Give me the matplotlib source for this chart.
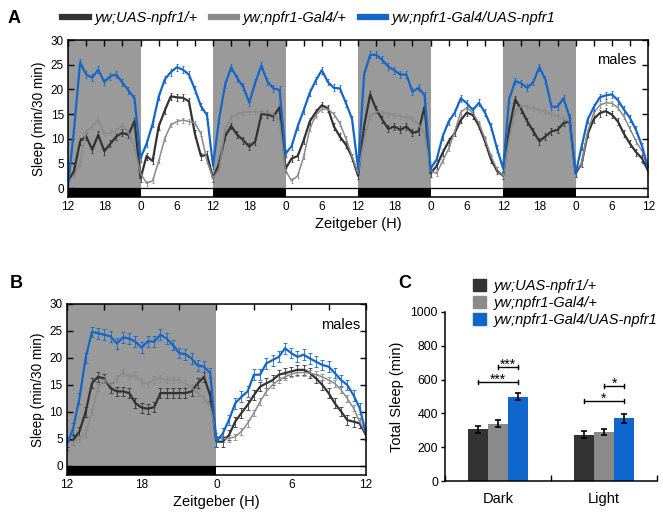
import matplotlib
matplotlib.use('Agg')
import matplotlib.pyplot as plt
from matplotlib.patches import Rectangle, Patch
from matplotlib.lines import Line2D
import numpy as np

plt.rcParams['font.family'] = ['Liberation Sans', 'DejaVu Sans']

genotypes = ['yw;UAS-npfr1/+', 'yw;npfr1-Gal4/+', 'yw;npfr1-Gal4/UAS-npfr1']
colors = ['#333333', '#8a8a8a', '#1467c9']
shade = '#9a9a9a'

# ---- panel A: 4 days, hourly, starting at ZT12 ----
uas_A = [1.4, 3.5, 9.5, 10.5, 7.8, 10.8, 7.5, 9, 10.5, 11.2, 10.8, 13.6, 2,
         6.5, 5.5, 12.5, 15.7, 18.6, 18.4, 18.3, 17.6, 11, 6.5, 6.8, 2,
         5, 10.5, 12.6, 10.8, 9.7, 8.4, 9.5, 15, 14.9, 14.5, 16.4, 4,
         6, 6.5, 9.7, 13.5, 15.4, 16.8, 16.2, 12.5, 10.4, 8.8, 6.3, 2.5,
         12.6, 19, 16, 13.9, 12, 12.5, 11.8, 12.5, 11.2, 11.5, 16.5, 3,
         4.5, 7.2, 9.5, 11.2, 13.8, 15.3, 14.8, 12.6, 9.5, 5.8, 3.5, 2.5,
         12, 18, 16, 13.5, 11.5, 9.5, 10.5, 11.5, 11.8, 13.2, 13.5, 3,
         5, 11, 14, 15.2, 15.6, 14.9, 13.5, 11, 9, 7.3, 6, 3.5]
gal4_A = [1, 2.6, 5, 11.5, 12.5, 13.8, 11, 11.2, 11.6, 12.8, 11.2, 8.2, 3,
          1.0, 1.5, 5.5, 10, 12.8, 13.5, 13.8, 13.5, 13.2, 11, 5.5, 2,
          3.8, 12, 14.3, 15, 15.3, 15.5, 15.5, 15.3, 15.3, 15, 13.5, 3.5,
          1.5, 2.5, 6.4, 12, 14.8, 16, 16, 15, 13.1, 10, 6.5, 3,
          10, 14.5, 15.5, 15.4, 15, 14.7, 14.6, 14.4, 14, 13, 11, 3.5,
          3, 5.5, 8, 11.5, 15.4, 16.3, 15.2, 13.2, 10, 6.5, 3.8, 2.5,
          10, 15.5, 16.6, 16.5, 16.2, 15.8, 15.5, 15, 14.6, 14, 13.5, 3.5,
          5, 11.5, 15.3, 16.8, 17.3, 17.2, 16.3, 14.5, 12, 9.5, 7.5, 4]
exp_A = [0.5, 12, 25.5, 23, 22.4, 24, 21.5, 22.7, 23, 21.4, 19.8, 18.2, 6.1,
         9, 13, 18.5, 22, 23.5, 24.5, 24, 23, 20, 16.6, 14.8, 4.5,
         14, 21, 24.5, 22.3, 20.5, 17.3, 21.5, 24.8, 21.6, 20.2, 19.9, 7,
         8.5, 12.5, 15.8, 19.3, 21.8, 23.9, 21.5, 20.3, 20.2, 17.2, 14, 4,
         23, 27, 27, 26, 24.6, 23.9, 23, 23, 19.5, 20.3, 18.8, 4,
         5.8, 10.5, 13.5, 15.3, 18.2, 17.2, 15.8, 17.3, 15.3, 12.5, 8, 4,
         18, 21.7, 21.2, 20.3, 21.5, 24.5, 22, 16.5, 16.5, 18.2, 14.4, 3,
         8.5, 13.9, 16.4, 18.4, 18.8, 19, 17.8, 15.9, 14.2, 11.8, 8.5, 4]
sem_A = [0.7, 0.5, 0.7]

# ---- panel B: average day, 30 min bins ----
uas_B = [4.5, 4.8, 6.4, 10.0, 15.3, 16.5, 16.2, 14.4, 13.8, 13.8, 13.5, 11.6,
         10.8, 10.6, 10.9, 13.5, 13.5, 13.5, 13.5, 13.5, 13.8, 15.3, 16.5, 13.0,
         4.5, 4.5, 5.7, 8.2, 9.8, 11.3, 13.1, 14.7, 15.3, 15.9, 16.9, 17.2,
         17.5, 17.8, 17.8, 17.2, 16.2, 15.0, 13.5, 11.6, 10.1, 8.5, 8.2, 7.9, 5.7]
gal4_B = [4.5, 4.5, 5.0, 6.0, 10.0, 14.5, 16.0, 15.0, 16.2, 17.3, 16.5, 16.8,
          15.5, 15.2, 16.0, 16.2, 15.9, 15.9, 15.9, 15.3, 14.5, 13.5, 12.5, 11.0,
          5.5, 5.0, 5.1, 5.4, 6.4, 7.9, 9.8, 11.9, 13.8, 15.0, 15.9, 16.5,
          17.0, 17.3, 17.3, 17.2, 16.9, 16.5, 15.9, 15.3, 14.1, 12.5, 10.7, 8.2, 6.0]
exp_B = [4.0, 7.0, 12.5, 20.0, 24.8, 24.6, 24.3, 24.0, 22.7, 23.8, 23.6, 23.0,
         21.9, 23.1, 23.0, 24.3, 23.6, 22.4, 20.9, 20.7, 19.9, 18.6, 18.4, 17.2,
         4.5, 6.0, 8.5, 11.6, 12.8, 13.8, 16.9, 16.9, 19.0, 19.6, 20.2, 21.8,
         20.9, 20.2, 20.6, 19.9, 19.3, 18.7, 18.4, 17.2, 15.9, 15.0, 13.1, 10.7, 6.0]
sem_B = [0.9, 0.6, 1.0]

# ---- panel C: total sleep ----
phases = ['Dark', 'Light']
total_dark = [305, 340, 500]
total_light = [275, 290, 370]
sem_dark = [20, 22, 18]
sem_light = [18, 20, 27]
# significance: (phase, genotype a, genotype b, level, label)
sig = [(0, 0, 2, 586, '***'), (0, 1, 2, 675, '***'),
       (1, 0, 2, 473, '*'), (1, 1, 2, 562, '*')]

fig = plt.figure(figsize=(6.63, 5.2), dpi=100)


def sleep_panel(ax, t, series, sems, ndays, ymin, cap):
    for d in range(ndays):
        ax.add_patch(Rectangle((24 * d, 0), 12, 30, color=shade, lw=0, zorder=0))
        ax.add_patch(Rectangle((24 * d, ymin), 12, -ymin, color='black', lw=0, zorder=3))
    ax.axhline(0, color='black', lw=0.9, zorder=3)
    for k in [1, 0, 2]:
        lw = 1.1 if k == 1 else 1.6
        ax.errorbar(t, series[k], yerr=sems[k], color=colors[k], lw=lw,
                    elinewidth=0.6, capsize=cap, capthick=0.6, zorder=2 + k * 0.1)
    ax.set_xlim(0, 24 * ndays)
    ax.set_ylim(ymin, 30)
    ax.set_yticks(range(0, 31, 5))
    ax.set_xticks(np.arange(0, 24 * ndays + 1, 6))
    ax.set_xticklabels(['12', '18', '0', '6'] * ndays + ['12'])
    ax.set_xticks(np.arange(0, 24 * ndays + 1, 3), minor=True)
    ax.tick_params(which='both', direction='in', top=True, bottom=False,
                   right=True, length=4, width=1, labelsize=8.5, pad=3)
    for s in ax.spines.values():
        s.set_linewidth(1.1)
    ax.set_xlabel('Zeitgeber (H)', fontsize=10.5, labelpad=3)
    ax.set_ylabel('Sleep (min/30 min)', fontsize=9.8, labelpad=3)
    ax.text(0.98, 0.875, 'males', transform=ax.transAxes, ha='right',
            va='center', fontsize=10.5)


axA = fig.add_axes([0.1026, 0.621, 0.875, 0.302])
sleep_panel(axA, np.arange(len(exp_A)), [uas_A, gal4_A, exp_A], sem_A, 4, -1.8, 1.0)

axB = fig.add_axes([0.101, 0.0865, 0.451, 0.329])
sleep_panel(axB, np.arange(len(exp_B)) * 0.5, [uas_B, gal4_B, exp_B], sem_B, 1, -1.67, 1.5)

handles = [Line2D([], [], color=c, lw=4.5) for c in colors]
fig.legend(handles, genotypes, loc='center', bbox_to_anchor=(0.466, 0.965), ncol=3,
           frameon=False, handlelength=1.8, handletextpad=0.4, columnspacing=0.9,
           prop={'style': 'italic', 'size': 10.5})

# ---- panel C ----
axC = fig.add_axes([0.671, 0.075, 0.32, 0.325])
w = 0.19
for g, vals, errs in [(0, total_dark, sem_dark), (1, total_light, sem_light)]:
    for k in range(3):
        x = g + 0.5 + (k - 1) * w
        axC.bar(x, vals[k], width=w, color=colors[k] if k < 2 else '#0f66cc')
        axC.errorbar(x, vals[k], yerr=errs[k], color='black', capsize=2.5,
                     elinewidth=1.2, capthick=1.2)
for g, a, b, y, lab in sig:
    xa = g + 0.5 + (a - 1) * w
    xb = g + 0.5 + (b - 1) * w
    axC.plot([xa, xb], [y, y], color='black', lw=1.0)
    axC.plot([xa, xa], [y - 14, y + 14], color='black', lw=1.0)
    axC.plot([xb, xb], [y - 14, y + 14], color='black', lw=1.0)
    axC.text((xa + xb) / 2, y - 12, lab, ha='center', va='baseline', fontsize=10)
axC.set_xlim(0, 2)
axC.set_ylim(0, 1000)
axC.set_yticks(range(0, 1001, 200))
axC.set_xticks([0, 1, 2])
axC.set_xticklabels([])
axC.set_xticks([0.5, 1.5], minor=True)
axC.set_xticklabels(phases, minor=True, fontsize=10.5)
axC.tick_params(axis='x', which='major', direction='in', length=4, width=1)
axC.tick_params(axis='x', which='minor', length=0, pad=8)
axC.tick_params(axis='y', direction='out', length=3, width=1, labelsize=8.8, pad=2)
axC.spines['top'].set_visible(False)
axC.spines['right'].set_visible(False)
for s in ['left', 'bottom']:
    axC.spines[s].set_linewidth(1.1)
axC.set_ylabel('Total Sleep (min)', fontsize=10.5, labelpad=5)

patches = [Patch(color=c) for c in [colors[0], colors[1], '#0f66cc']]
fig.legend(patches, genotypes, loc='upper left', bbox_to_anchor=(0.705, 0.475),
           frameon=False, handlelength=0.9, handleheight=0.9, handletextpad=0.5,
           labelspacing=0.2, borderaxespad=0, prop={'style': 'italic', 'size': 10.5})

fig.text(0.012, 0.965, 'A', fontsize=13, fontweight='bold', va='center')
fig.text(0.015, 0.455, 'B', fontsize=13, fontweight='bold', va='center')
fig.text(0.6, 0.455, 'C', fontsize=13, fontweight='bold', va='center')

fig.savefig('out.png', dpi=100)
